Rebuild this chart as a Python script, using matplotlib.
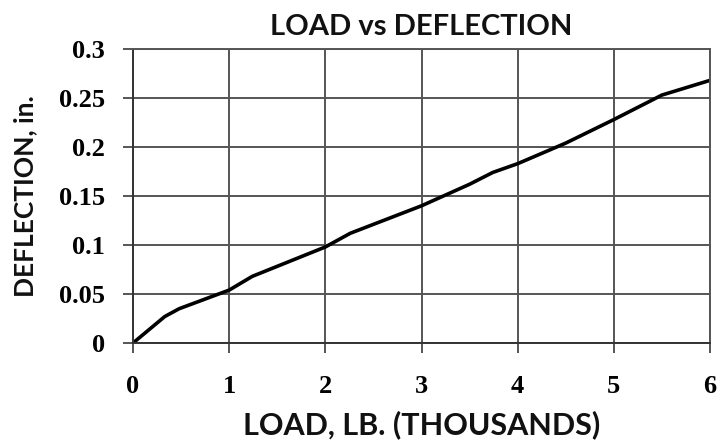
import matplotlib
matplotlib.use("Agg")
import matplotlib.pyplot as plt

load = [0, 0.33, 0.48, 1.0, 1.24, 2.0, 2.26, 3.0, 3.5, 3.74, 4.0, 4.5, 5.0, 5.5, 6.0]
deflection = [0, 0.027, 0.035, 0.054, 0.068, 0.098, 0.112, 0.140, 0.162, 0.174, 0.183, 0.204, 0.228, 0.253, 0.268]

xticks = [0, 1, 2, 3, 4, 5, 6]
yticks = [0, 0.05, 0.1, 0.15, 0.2, 0.25, 0.3]
ytick_labels = ["0", "0.05", "0.1", "0.15", "0.2", "0.25", "0.3"]

fig = plt.figure(figsize=(7.28, 4.43), dpi=100)
ax = fig.add_axes([0.1827, 0.2257, 0.7926, 0.6637])

ax.plot(load, deflection, color="black", lw=2.6, solid_joinstyle="round")

ax.set_xlim(0, 6)
ax.set_ylim(0, 0.3)
ax.set_xticks(xticks)
ax.set_yticks(yticks)
ax.set_yticklabels(ytick_labels)
ax.grid(True, color="#555555", lw=1.4)
ax.set_axisbelow(True)

for s in ["top", "right"]:
    ax.spines[s].set_color("#555555")
    ax.spines[s].set_linewidth(1.4)
for s in ["left", "bottom"]:
    ax.spines[s].set_color("#333333")
    ax.spines[s].set_linewidth(1.4)

ax.tick_params(axis="both", direction="out", length=7, width=1.4, color="#555555")
ax.tick_params(axis="x", pad=16)
ax.tick_params(axis="y", pad=13)
for lab in ax.get_xticklabels() + ax.get_yticklabels():
    lab.set_fontfamily("Liberation Serif")
    lab.set_fontweight("bold")
    lab.set_fontsize(19)

ax.set_title("LOAD vs DEFLECTION", fontfamily="Lato", fontweight="bold",
             fontsize=21, pad=10, color="#111111")
ax.set_xlabel("LOAD, LB. (THOUSANDS)", fontfamily="Lato", fontweight="bold",
              fontsize=22, labelpad=9, color="#111111")
ax.set_ylabel("DEFLECTION, in.", fontfamily="Lato", fontweight="bold",
              fontsize=19, labelpad=16, color="#111111")

fig.savefig("out.png", dpi=100)
